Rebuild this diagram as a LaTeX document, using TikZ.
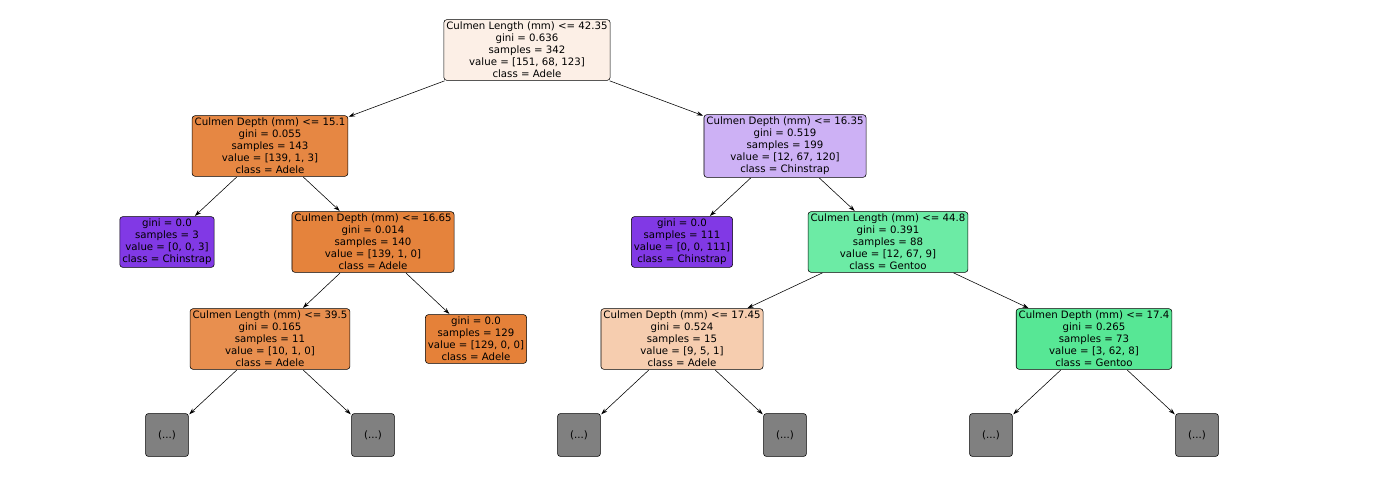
\documentclass[tikz,border=0pt]{standalone}
\usepackage{fontspec}
\setmainfont{DejaVu Sans}
\usetikzlibrary{arrows.meta}
\definecolor{cRoot}{HTML}{FCEFE6}
\definecolor{cOrA}{HTML}{E68743}
\definecolor{cOrB}{HTML}{E5833C}
\definecolor{cOrC}{HTML}{E88F4F}
\definecolor{cOrD}{HTML}{E58139}
\definecolor{cOrE}{HTML}{F6CDAF}
\definecolor{cLil}{HTML}{CDB1F5}
\definecolor{cPur}{HTML}{8139E5}
\definecolor{cGrA}{HTML}{6CEBA5}
\definecolor{cGrB}{HTML}{57E795}
\tikzset{
  leaf/.style={draw=black, rounded corners=4pt, align=center, inner sep=3.5pt,
    font=\fontsize{14.5}{17}\selectfont, line width=0.8pt},
  dots/.style={draw=black, fill=gray!100!white, fill=gray, rounded corners=4pt,
    minimum width=61pt, minimum height=61pt, font=\fontsize{14.5}{17}\selectfont, line width=0.8pt},
  edge/.style={-{Stealth[length=9pt,width=6pt]}, line width=0.8pt, shorten <=1pt, shorten >=1pt}
}
\begin{document}
\begin{tikzpicture}[x=0.05cm, y=-0.05cm]
    \useasboundingbox (0,0) rectangle (1400,497);
    \node[leaf, fill=cRoot] (root) at (527,50) {Culmen Length (mm) <= 42.35\\gini = 0.636\\samples = 342\\value = [151, 68, 123]\\class = Adele};
    \node[leaf, fill=cOrA] (l1) at (270,146) {Culmen Depth (mm) <= 15.1\\gini = 0.055\\samples = 143\\value = [139, 1, 3]\\class = Adele};
    \node[leaf, fill=cLil] (r1) at (785,146) {Culmen Depth (mm) <= 16.35\\gini = 0.519\\samples = 199\\value = [12, 67, 120]\\class = Chinstrap};
    \node[leaf, fill=cPur] (l2a) at (167,242) {gini = 0.0\\samples = 3\\value = [0, 0, 3]\\class = Chinstrap};
    \node[leaf, fill=cOrB] (l2b) at (373,242) {Culmen Depth (mm) <= 16.65\\gini = 0.014\\samples = 140\\value = [139, 1, 0]\\class = Adele};
    \node[leaf, fill=cPur] (r2a) at (682,242) {gini = 0.0\\samples = 111\\value = [0, 0, 111]\\class = Chinstrap};
    \node[leaf, fill=cGrA] (r2b) at (888,242) {Culmen Length (mm) <= 44.8\\gini = 0.391\\samples = 88\\value = [12, 67, 9]\\class = Gentoo};
    \node[leaf, fill=cOrC] (l3a) at (270,339) {Culmen Length (mm) <= 39.5\\gini = 0.165\\samples = 11\\value = [10, 1, 0]\\class = Adele};
    \node[leaf, fill=cOrD] (l3b) at (476,339) {gini = 0.0\\samples = 129\\value = [129, 0, 0]\\class = Adele};
    \node[leaf, fill=cOrE] (r3a) at (682,339) {Culmen Depth (mm) <= 17.45\\gini = 0.524\\samples = 15\\value = [9, 5, 1]\\class = Adele};
    \node[leaf, fill=cGrB] (r3b) at (1094,339) {Culmen Depth (mm) <= 17.4\\gini = 0.265\\samples = 73\\value = [3, 62, 8]\\class = Gentoo};
    % truncated subtrees
    \foreach \n/\x in {d1/167, d2/373, d3/579, d4/785, d5/991, d6/1197}
        \node[dots] (\n) at (\x,435) {(...)};
    % edges
    \draw[edge] (root) -- (l1);
    \draw[edge] (root) -- (r1);
    \draw[edge] (l1) -- (l2a);
    \draw[edge] (l1) -- (l2b);
    \draw[edge] (r1) -- (r2a);
    \draw[edge] (r1) -- (r2b);
    \draw[edge] (l2b) -- (l3a);
    \draw[edge] (l2b) -- (l3b);
    \draw[edge] (r2b) -- (r3a);
    \draw[edge] (r2b) -- (r3b);
    \draw[edge] (l3a) -- (d1);
    \draw[edge] (l3a) -- (d2);
    \draw[edge] (r3a) -- (d3);
    \draw[edge] (r3a) -- (d4);
    \draw[edge] (r3b) -- (d5);
    \draw[edge] (r3b) -- (d6);
\end{tikzpicture}
\end{document}
